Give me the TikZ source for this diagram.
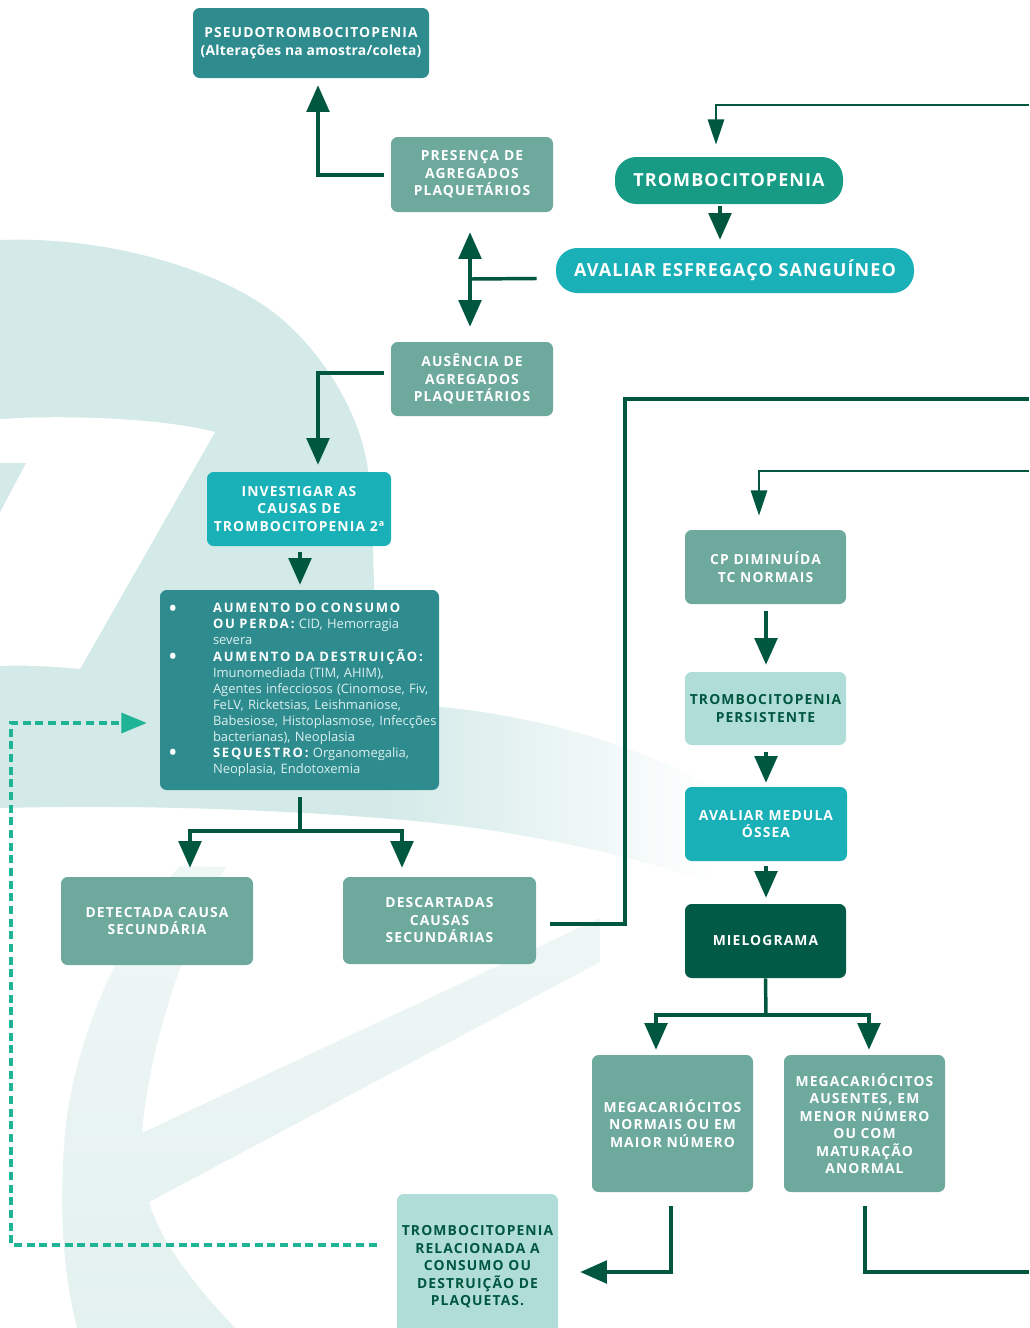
\documentclass[tikz,border=0pt]{standalone}
\usepackage{fontspec}
\setmainfont{Open Sans}
\newfontfamily\bx[LetterSpace=8]{Open Sans}
\newfontfamily\bxs[LetterSpace=2]{Open Sans}
\newfontfamily\bxw[LetterSpace=6]{Open Sans}
\newfontfamily\lsb[LetterSpace=14]{Open Sans}
\usetikzlibrary{arrows.meta,calc}
\definecolor{dkg}{HTML}{00573F}
\definecolor{cTeal}{HTML}{2E8C8F}
\definecolor{cGrey}{HTML}{6DA99D}
\definecolor{cPill}{HTML}{179B84}
\definecolor{cCyan}{HTML}{1AB0B8}
\definecolor{cPale}{HTML}{B1DDD8}
\definecolor{cDark}{HTML}{005A45}
\definecolor{cDash}{HTML}{1FB496}
\definecolor{cBody}{HTML}{DCEFEF}
\definecolor{bgA}{HTML}{D3EAE8}
\definecolor{bgB}{HTML}{EFF7F6}
\definecolor{bgC}{HTML}{E3F1EF}
\newcommand{\bulmark}{\textcolor{white}{\raisebox{-3.2pt}{\fontsize{19}{12}\selectfont •}}}
\begin{document}
\begin{tikzpicture}[x=0.75pt,y=-0.75pt,
  box/.style={rounded corners=5pt, inner sep=0pt, align=center, text=white,
    font=\bx\bfseries\fontsize{10.4}{13.1}\selectfont},
  pill/.style={rounded corners=16pt, inner sep=0pt, align=center, text=white,
    font=\bxw\bfseries\fontsize{13.5}{16}\selectfont},
  arr/.style={draw=dkg, line width=2.6pt, -{Triangle[length=20pt,width=17pt]}},
  arrthin/.style={draw=dkg, line width=2.2pt, -{Triangle[length=19pt,width=12pt]}},
  conn/.style={draw=dkg, line width=2.6pt},
  connthin/.style={draw=dkg, line width=2.2pt},
  dasharr/.style={draw=cDash, line width=2.4pt, dash pattern=on 6pt off 3.5pt,
    -{Triangle[length=19pt,width=15pt]}}]
\useasboundingbox (0,0) rectangle (1029,1328);
\clip (0,0) rectangle (1029,1328);
% ---- background watermark ----
\fill[bgA] (0,240) .. controls (110,236) and (220,270) .. (277,315)
  .. controls (320,350) and (360,410) .. (368,470)
  .. controls (375,530) and (372,600) .. (380,704)
  -- (380,818) .. controls (250,808) and (120,805) .. (0,808) -- cycle;
\shade[left color=bgA, right color=white] (379,704) .. controls (470,704) and (600,725) .. (720,790)
  -- (720,885) .. controls (600,845) and (480,825) .. (379,818) -- cycle;
\fill[white] (0,419) .. controls (80,414) and (170,420) .. (215,432)
  -- (80,669) .. controls (50,666) and (20,665) .. (0,666) -- cycle;
\fill[bgA] (0,463) -- (26,463) -- (0,512) -- cycle;
\shade[top color=bgB, bottom color=bgC] (180,866) .. controls (130,920) and (75,1030) .. (65,1133)
  .. controls (58,1220) and (65,1280) .. (77,1328) -- (235,1328)
  .. controls (190,1280) and (160,1240) .. (149,1202) -- (600,962) -- (600,918)
  -- (142,1133) .. controls (148,1060) and (175,960) .. (226,867) -- cycle;
% ---- nodes ----
\node[box, fill=cTeal, minimum width=177pt, minimum height=52.5pt] (pseudo) at (311,43)
  {PSEUDOTROMBOCITOPENIA\\{\bxs\bfseries(Alterações na amostra/coleta)}};
\node[box, fill=cGrey, minimum width=121.5pt, minimum height=56.25pt] (pres) at (472,174.5)
  {PRESENÇA DE\\AGREGADOS\\PLAQUETÁRIOS};
\node[pill, fill=cPill, minimum width=171pt, minimum height=35.25pt] (tromb) at (729,180.5)
  {TROMBOCITOPENIA};
\node[pill, fill=cCyan, minimum width=268.5pt, minimum height=33.75pt] (aval) at (735,270.5)
  {AVALIAR ESFREGAÇO SANGUÍNEO};
\node[box, fill=cGrey, minimum width=121.5pt, minimum height=55.5pt] (aus) at (472,379)
  {AUSÊNCIA DE\\AGREGADOS\\PLAQUETÁRIOS};
\node[box, fill=cCyan, minimum width=138pt, minimum height=55.5pt] (inv) at (299,509)
  {INVESTIGAR AS\\CAUSAS DE\\TROMBOCITOPENIA 2ª};
\node[rounded corners=5pt, fill=cTeal, text=cBody, minimum width=209.25pt, minimum height=150pt,
  inner xsep=6pt, inner ysep=0pt, text width=197.25pt, align=left,
  font=\fontsize{9.75}{12}\selectfont] (list) at (299.5,690)
  {\begin{tabular}{@{}p{33.75pt}@{}l@{}}
  \bulmark & {\color{white}\lsb\bfseries AUMENTO DO CONSUMO}\\
    & {\color{white}\lsb\bfseries OU PERDA:} CID, Hemorragia\\
    & severa\\
  \bulmark & {\color{white}\lsb\bfseries AUMENTO DA DESTRUIÇÃO:}\\
    & Imunomediada (TIM, AHIM),\\
    & Agentes infecciosos (Cinomose, Fiv,\\
    & FeLV, Ricketsias, Leishmaniose,\\
    & Babesiose, Histoplasmose, Infecções\\
    & bacterianas), Neoplasia\\
  \bulmark & {\color{white}\lsb\bfseries SEQUESTRO:} Organomegalia,\\
    & Neoplasia, Endotoxemia
  \end{tabular}};
\node[box, fill=cGrey, minimum width=144pt, minimum height=66pt] (det) at (157,921)
  {DETECTADA CAUSA\\SECUNDÁRIA};
\node[box, fill=cGrey, minimum width=144.75pt, minimum height=65.25pt] (desc) at (439.5,920.5)
  {DESCARTADAS\\CAUSAS\\SECUNDÁRIAS};
\node[box, fill=cGrey, minimum width=120.75pt, minimum height=55.5pt] (cp) at (765.5,567)
  {CP DIMINUÍDA\\TC NORMAIS};
\node[box, fill=cPale, text=dkg, minimum width=120.75pt, minimum height=54.75pt] (pers) at (765.5,708.5)
  {TROMBOCITOPENIA\\PERSISTENTE};
\node[box, fill=cCyan, minimum width=121.5pt, minimum height=55.5pt] (med) at (766,824)
  {AVALIAR MEDULA\\ÓSSEA};
\node[box, fill=cDark, minimum width=120.75pt, minimum height=55.5pt] (miel) at (765.5,941)
  {MIELOGRAMA};
\node[box, fill=cGrey, minimum width=120.75pt, minimum height=102.75pt] (megN) at (672.5,1123.5)
  {MEGACARIÓCITOS\\NORMAIS OU EM\\MAIOR NÚMERO};
\node[box, fill=cGrey, minimum width=120.75pt, minimum height=102.75pt] (megA) at (864.5,1123.5)
  {MEGACARIÓCITOS\\AUSENTES, EM\\MENOR NÚMERO\\OU COM\\MATURAÇÃO\\ANORMAL};
\node[box, fill=cPale, text=dkg, minimum width=120.75pt, minimum height=109.5pt] (rel) at (477.5,1267)
  {TROMBOCITOPENIA\\RELACIONADA A\\CONSUMO OU\\DESTRUIÇÃO DE\\PLAQUETAS.};
% ---- coordinates ----
\coordinate (e1) at (1029,105);
\coordinate (e2) at (1029,399);
\coordinate (e3) at (1029,471);
\coordinate (e4) at (1029,1272);
\coordinate (j) at (470,279);
\coordinate (c8) at (625,399);
\coordinate (s1) at (300,831);
\coordinate (s2) at (766,1015);
\coordinate (d2) at (11,723);
% ---- connectors ----
\draw[arr] ($(pres.west)+(-7,0.5)$) -| ($(pseudo.south)+(7,7)$);
\draw[conn] ($(aval.west)+(-19,8)$) -- (j);
\draw[arr] (j) -- ($(pres.south)+(-2,20)$);
\draw[arr] (j) -- ($(aus.north)+(-2,-15)$);
\draw[arrthin] (e1) -| ($(tromb.north)+(-13,-12)$);
\draw[arr] ($(tromb.south)+(-9,2)$) -- ($(aval.north)+(-15,-8)$);
\draw[arr] ($(aus.west)+(-7,-6)$) -| ($(inv.north)+(19,-7)$);
\draw[arr] ($(inv.south)+(1,6)$) -- ($(list.north)+(0.5,-5)$);
\draw[conn] ($(list.south)+(0.5,7)$) -- (s1);
\draw[arr] (s1) -| ($(det.north)+(33,-9)$);
\draw[arr] (s1) -| ($(desc.north)+(-37.5,-9)$);
\draw[conn] ($(desc.east)+(14,3.5)$) -| (c8) -- (e2);
\draw[arrthin] (e3) -| ($(cp.north)+(-6.5,-14)$);
\draw[arr] ($(cp.south)+(0.5,7)$) -- ($(pers.north)+(0.5,-7)$);
\draw[arr] ($(pers.south)+(0.5,7)$) -- ($(med.north)+(0,-4)$);
\draw[arr] ($(med.south)+(0,5)$) -- ($(miel.north)+(0.5,-6)$);
\draw[conn] (miel.south) -- (s2);
\draw[arr] (s2) -| ($(megN.north)+(-16.5,-5)$);
\draw[arr] (s2) -| ($(megA.north)+(4.5,-5)$);
\draw[arr] ($(megN.south)+(-1.5,14)$) |- ($(rel.east)+(22,5)$);
\draw[conn] ($(megA.south)+(0.5,14)$) |- (e4);
\draw[dasharr] ($(rel.west)+(-20,-22)$) -| (d2) -- ($(list.west)+(-13,33)$);
\end{tikzpicture}
\end{document}
